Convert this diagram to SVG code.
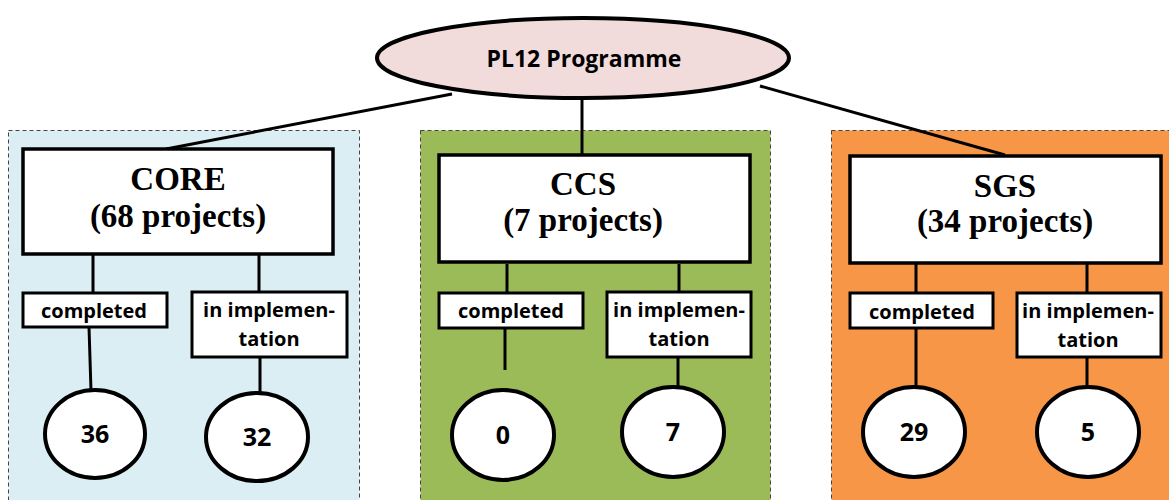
<svg xmlns="http://www.w3.org/2000/svg" width="1169" height="500" viewBox="0 0 1169 500">
<style>
.panel{stroke:#444;stroke-width:1;stroke-dasharray:4 3}
.big{fill:#fff;stroke:#000;stroke-width:3.5}
.small{fill:#fff;stroke:#000;stroke-width:3}
.num{fill:#fff;stroke:#000;stroke-width:4}
.ln{stroke:#000;stroke-width:3;fill:none}
.serif{font-family:"Liberation Serif","Times New Roman",serif;font-weight:bold;font-size:33px;text-anchor:middle;fill:#000}
.sans{font-family:"Open Sans","Liberation Sans",sans-serif;font-weight:bold;font-size:20px;text-anchor:middle;fill:#000}
.n{font-family:"Open Sans","Liberation Sans",sans-serif;font-weight:bold;font-size:25px;text-anchor:middle;fill:#000}
</style>
<rect width="1169" height="500" fill="#fff"/>
<g id="panels">
<rect class="panel" x="8.5" y="130.5" width="351" height="380" fill="#DAEEF3"/>
<rect class="panel" x="420.5" y="130.5" width="350" height="380" fill="#9BBB59"/>
<rect class="panel" x="831.5" y="130.5" width="350" height="380" fill="#F79646"/>
</g>
<g id="connectors">
<line class="ln" x1="452" y1="94" x2="166" y2="149"/>
<line class="ln" x1="582" y1="98" x2="582" y2="155"/>
<line class="ln" x1="760" y1="86" x2="1005" y2="155"/>
<line class="ln" x1="93" y1="255" x2="93" y2="293"/>
<line class="ln" x1="89" y1="327" x2="91" y2="391"/>
<line class="ln" x1="259" y1="255" x2="259" y2="292"/>
<line class="ln" x1="260" y1="357" x2="260" y2="394"/>
<line class="ln" x1="507" y1="264" x2="507" y2="293"/>
<line class="ln" x1="505" y1="328" x2="505" y2="370"/>
<line class="ln" x1="679" y1="264" x2="679" y2="292"/>
<line class="ln" x1="678" y1="357" x2="678" y2="388"/>
<line class="ln" x1="916" y1="263" x2="916" y2="293"/>
<line class="ln" x1="916" y1="328" x2="916" y2="388"/>
<line class="ln" x1="1087" y1="263" x2="1087" y2="293"/>
<line class="ln" x1="1087" y1="357" x2="1087" y2="388"/>
</g>
<g id="root">
<ellipse cx="583" cy="58" rx="206" ry="40" fill="#F2DCDB" stroke="#000" stroke-width="4"/>
<text x="584" y="67" font-family="'Open Sans','Liberation Sans',sans-serif" font-weight="bold" font-size="23" text-anchor="middle">PL12 Programme</text>
</g>
<g id="core">
<rect class="big" x="23" y="149" width="310" height="105"/>
<text class="serif" x="178" y="190">CORE</text>
<text class="serif" x="178" y="227">(68 projects)</text>
</g>
<g id="ccs">
<rect class="big" x="439" y="155" width="311" height="107"/>
<text class="serif" x="583" y="195">CCS</text>
<text class="serif" x="583" y="231">(7 projects)</text>
</g>
<g id="sgs">
<rect class="big" x="850" y="156" width="311" height="107"/>
<text class="serif" x="1005" y="197">SGS</text>
<text class="serif" x="1005" y="232">(34 projects)</text>
</g>
<g id="core-completed">
<rect class="small" x="23" y="293" width="144" height="34"/>
<text class="sans" x="94" y="318">completed</text>
</g>
<g id="core-impl">
<rect class="small" x="192" y="292" width="155" height="65"/>
<text class="sans" x="269" y="317">in implemen-</text>
<text class="sans" x="269" y="346">tation</text>
</g>
<g id="ccs-completed">
<rect class="small" x="439" y="293" width="144" height="35"/>
<text class="sans" x="511" y="318">completed</text>
</g>
<g id="ccs-impl">
<rect class="small" x="607" y="292" width="144" height="65"/>
<text class="sans" x="679" y="317">in implemen-</text>
<text class="sans" x="679" y="346">tation</text>
</g>
<g id="sgs-completed">
<rect class="small" x="850" y="293" width="143" height="35"/>
<text class="sans" x="922" y="319">completed</text>
</g>
<g id="sgs-impl">
<rect class="small" x="1017" y="293" width="144" height="64"/>
<text class="sans" x="1088" y="318">in implemen-</text>
<text class="sans" x="1088" y="347">tation</text>
</g>
<g id="core-36">
<ellipse class="num" cx="95" cy="434" rx="50" ry="44"/>
<text class="n" x="95" y="443">36</text>
</g>
<g id="core-32">
<ellipse class="num" cx="257" cy="437" rx="51" ry="44"/>
<text class="n" x="257" y="446">32</text>
</g>
<g id="ccs-0">
<ellipse class="num" cx="503" cy="435" rx="51" ry="45"/>
<text class="n" x="503" y="444">0</text>
</g>
<g id="ccs-7">
<ellipse class="num" cx="673" cy="432" rx="51" ry="45"/>
<text class="n" x="673" y="441">7</text>
</g>
<g id="sgs-29">
<ellipse class="num" cx="914" cy="432" rx="51" ry="45"/>
<text class="n" x="914" y="441">29</text>
</g>
<g id="sgs-5">
<ellipse class="num" cx="1088" cy="432" rx="51" ry="45"/>
<text class="n" x="1088" y="441">5</text>
</g>
</svg>
